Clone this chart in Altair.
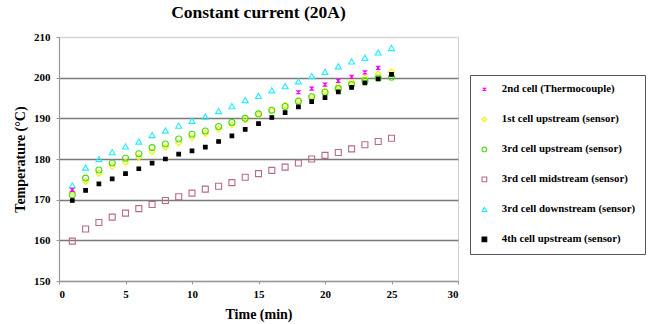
import altair as alt
import pandas as pd

# ---- data ----
series_names = [
    "2nd cell (Thermocouple)",
    "1st cell upstream (sensor)",
    "3rd cell upstream (sensor)",
    "3rd cell midstream (sensor)",
    "3rd cell downstream (sensor)",
    "4th cell upstream (sensor)",
]
time = list(range(1, 26))
thermo_time = [1, 18, 19, 20, 21, 22, 23, 24]
thermo = [172.4, 196.4, 197.3, 198.3, 199.2, 200.2, 201.3, 202.4]
up1 = [171.8, 174.5, 176.5, 178.2, 179.2, 180.4, 181.8, 182.9, 184.0, 185.3, 186.3, 187.4, 188.4,
       189.6, 190.8, 191.9, 193.3, 194.5, 195.5, 196.8, 197.9, 199.0, 200.0, 200.9, 201.4]
up3 = [171.2, 175.3, 177.3, 179.0, 180.2, 181.3, 182.8, 183.7, 184.9, 186.1, 186.9, 188.0, 189.0,
       190.0, 191.1, 192.0, 192.9, 194.2, 195.3, 196.4, 197.3, 198.3, 199.2, 199.9, 200.1]
mid3 = [159.8, 162.8, 164.4, 165.7, 166.7, 167.8, 168.8, 169.8, 170.7, 171.6, 172.6, 173.3, 174.2,
        175.5, 176.4, 177.2, 178.0, 179.0, 180.0, 180.9, 181.6, 182.5, 183.5, 184.3, 185.1]
down3 = [173.5, 177.9, 180.0, 181.7, 183.1, 184.3, 185.9, 187.0, 188.2, 189.4, 190.4, 191.8, 193.0,
         194.5, 195.5, 196.9, 197.9, 199.1, 200.4, 201.4, 202.8, 204.0, 204.9, 206.2, 207.3]
up4 = [169.8, 172.3, 173.9, 175.1, 176.4, 177.6, 179.0, 180.0, 181.2, 182.0, 182.9, 184.3, 185.7,
       187.3, 188.7, 190.2, 191.4, 192.8, 194.1, 195.1, 196.5, 197.6, 198.7, 199.7, 200.8]

stroke_colors = ["#FF00FF", "#F2F200", "#44DD11", "#B86A8A", "#22EEFF", "#000000"]
fill_colors = ["transparent", "transparent", "transparent", "transparent", "transparent", "#000000"]
shapes = [
    "M-0.5,-0.5L0.5,-0.5L-0.5,0.5L0.5,0.5Z",
    "diamond",
    "circle",
    "square",
    "triangle-up",
    "square",
]

rows = []
draw_order = [
    (series_names[3], time, mid3),
    (series_names[4], time, down3),
    (series_names[1], time, up1),
    (series_names[2], time, up3),
    (series_names[0], thermo_time, thermo),
    (series_names[5], time, up4),
]
for name, ts, vs in draw_order:
    for t, v in zip(ts, vs):
        rows.append({"Series": name, "Time": t, "Temp": v})
df = pd.DataFrame(rows)

FONT = "Liberation Serif"


def sub_legend():
    return alt.Legend(title=None, orient="none", legendX=411, legendY=38)


chart = (
    alt.Chart(df)
    .mark_point(filled=False, strokeWidth=1.1, opacity=1)
    .encode(
        x=alt.X(
            "Time:Q",
            scale=alt.Scale(domain=[0, 30], nice=False),
            axis=alt.Axis(values=[0, 5, 10, 15, 20, 25, 30], grid=False, title="Time (min)",
                          titlePadding=8),
        ),
        y=alt.Y(
            "Temp:Q",
            scale=alt.Scale(domain=[150, 210], nice=False),
            axis=alt.Axis(
                values=[150, 160, 170, 180, 190, 200, 210],
                title="Temperature (\u00b0C)",
                titlePadding=6,
                gridColor={"condition": {"test": "datum.value >= 210", "value": "#d4d4d4"},
                           "value": "#7a7a7a"},
            ),
        ),
        color=alt.Color(
            "Series:N",
            scale=alt.Scale(domain=series_names, range=stroke_colors),
            legend=alt.Legend(
                title=None,
                orient="none",
                legendX=411,
                legendY=38,
                strokeColor="#555555",
                padding=9,
                rowPadding=18,
                symbolSize=22,
                symbolStrokeWidth=1.1,
                labelFont=FONT,
                labelFontSize=10.8,
                labelFontWeight="bold",
                labelColor="#000000",
                labelOffset=12,
                labelLimit=200,
                offset=0,
            ),
        ),
        fill=alt.Fill("Series:N", scale=alt.Scale(domain=series_names, range=fill_colors),
                      legend=sub_legend()),
        shape=alt.Shape("Series:N", scale=alt.Scale(domain=series_names, range=shapes),
                        legend=sub_legend()),
        size=alt.condition(alt.datum.Series == series_names[5], alt.value(13), alt.value(36)),
    )
    .properties(
        width=399,
        height=244,
        title=alt.TitleParams(
            "Constant current (20A)",
            font=FONT,
            fontSize=17.5,
            fontWeight="bold",
            anchor="middle",
            offset=10,
            color="#000000",
        ),
        autosize=alt.AutoSizeParams(type="none"),
        padding={"left": 59, "top": 37, "right": 190, "bottom": 43},
    )
    .configure_view(stroke="#d0d0d0", strokeWidth=1)
    .configure_axis(
        labelFont=FONT,
        labelFontSize=11,
        labelFontWeight="bold",
        labelColor="#000000",
        titleFont=FONT,
        titleFontSize=14,
        titleFontWeight="bold",
        titleColor="#000000",
        domainColor="#999999",
        domainWidth=1.2,
        tickColor="#999999",
        tickSize=3,
        gridWidth=1.5,
    )
    .configure_axisY(labelPadding=6)
    .configure_axisX(labelPadding=4)
)

chart.save("out.html", embed_options={"renderer": "svg", "actions": False})
